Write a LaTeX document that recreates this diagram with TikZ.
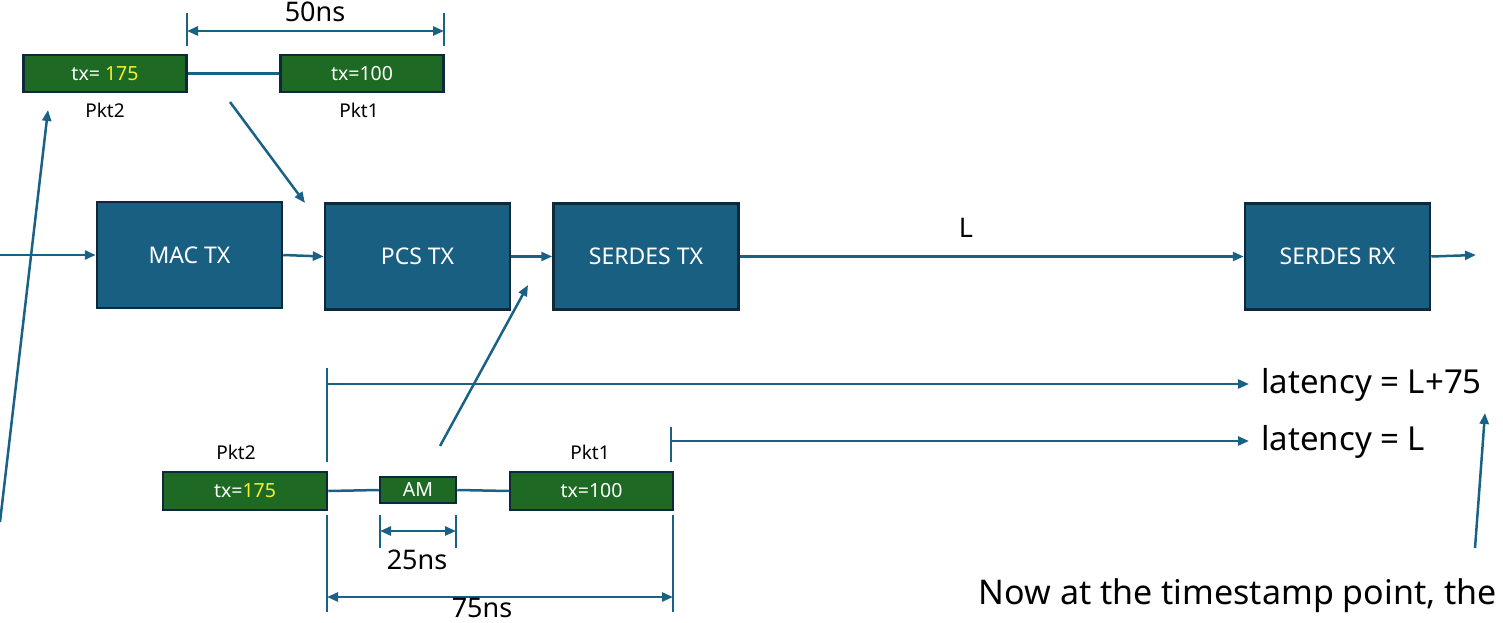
\documentclass[tikz,border=0pt]{standalone}
\usepackage{fontspec}
\setmainfont{Noto Sans}
\usetikzlibrary{arrows.meta}
\definecolor{boxblue}{RGB}{25,95,130}
\definecolor{boxedge}{RGB}{14,42,58}
\definecolor{pktgreen}{RGB}{30,106,36}
\definecolor{lnblue}{RGB}{26,98,133}
\definecolor{txyellow}{RGB}{245,240,40}
\tikzset{
  blk/.style={draw=boxedge, line width=2.5pt, fill=boxblue, text=white, inner sep=0pt,
    minimum width=185pt, minimum height=106pt, font=\fontsize{23}{27}\selectfont},
  pkt/.style={draw=boxedge, line width=2.5pt, fill=pktgreen, text=white, inner sep=0pt,
    minimum width=163pt, minimum height=37pt, font=\fontsize{19.5}{23}\selectfont},
  lbl/.style={font=\fontsize{19}{22}\selectfont, text=black, inner sep=0pt},
  dimlbl/.style={font=\fontsize{27}{32}\selectfont, text=black, inner sep=0pt},
  bigtxt/.style={font=\fontsize{33}{38}\selectfont, text=black, inner sep=0pt},
  ln/.style={draw=lnblue, line width=2.5pt},
  arr/.style={ln, -{Triangle[length=11pt,width=9pt]}},
  dim/.style={ln, {Triangle[length=11pt,width=9pt]}-{Triangle[length=11pt,width=9pt]}},
}
\begin{document}
\begin{tikzpicture}[x=1pt,y=-1pt]
\useasboundingbox (0,0) rectangle (1503,623);
% main blocks
\node[blk] (mac) at (189.5,255) {MAC TX};
\node[blk] (pcs) at (417.5,256.5) {PCS TX};
\node[blk] (stx) at (646,256.5) {SERDES TX};
\node[blk] (srx) at (1337.5,256.5) {SERDES RX};
\coordinate (in) at (0,255);
\coordinate (out) at (1476,255);
\draw[arr] (in) -- (mac.west);
\draw[arr] (mac.east) -- (pcs.west);
\draw[arr] (pcs.east) -- (stx.west);
\draw[arr] (stx.east) -- (srx.west);
\node[dimlbl] (L) at (966,228) {L};
\draw[arr] (srx.east) -- (out);
% top packets
\node[pkt] (tp2) at (105,73.5) {tx= \textcolor{txyellow}{175}};
\node[pkt] (tp1) at (362,73.5) {tx=100};
\draw[ln] (tp2.east) -- (tp1.west);
\node[lbl] (tp2l) at (105,110) {Pkt2};
\node[lbl] (tp1l) at (359,110) {Pkt1};
\coordinate (t50a) at (187,13); \coordinate (t50b) at (187,46);
\coordinate (t50c) at (444,13); \coordinate (t50d) at (444,46);
\draw[ln] (t50a) -- (t50b);
\draw[ln] (t50c) -- (t50d);
\coordinate (d50a) at (187,31); \coordinate (d50b) at (444,31);
\draw[dim] (d50a) -- (d50b);
\node[dimlbl] (n50) at (315,12) {50ns};
\coordinate (a1s) at (230,102); \coordinate (a1e) at (305,203);
\draw[arr] (a1s) -- (a1e);
\coordinate (a2s) at (0,522); \coordinate (a2e) at (48,110);
\draw[arr] (a2s) -- (a2e);
% bottom packets
\node[pkt, minimum width=164pt, minimum height=38pt] (bp2) at (245,491) {tx=\textcolor{txyellow}{175}};
\node[pkt, minimum width=76pt, minimum height=26pt] (am) at (418,490) {AM};
\node[pkt, minimum height=38pt] (bp1) at (591.5,491) {tx=100};
\draw[ln] (bp2.east) -- (am.west);
\draw[ln] (am.east) -- (bp1.west);
\node[lbl] (bp2l) at (236,452) {Pkt2};
\node[lbl] (bp1l) at (590,452) {Pkt1};
\coordinate (a3s) at (440,446); \coordinate (a3e) at (528,285);
\draw[arr] (a3s) -- (a3e);
% latency lines
\coordinate (lt1a) at (327,368); \coordinate (lt1b) at (327,462);
\draw[ln] (lt1a) -- (lt1b);
\coordinate (lh1) at (327,384);
\node[bigtxt, anchor=west] (lat1) at (1261,385) {latency = L+75};
\draw[arr] (lh1) -- (1249,384);
\coordinate (lt2a) at (671,427); \coordinate (lt2b) at (671,462);
\draw[ln] (lt2a) -- (lt2b);
\coordinate (lh2) at (671,441);
\node[bigtxt, anchor=west] (lat2) at (1261,442) {latency = L};
\draw[arr] (lh2) -- (1249,441);
% 25ns
\coordinate (t25a) at (380,515); \coordinate (t25b) at (380,548);
\coordinate (t25c) at (456,515); \coordinate (t25d) at (456,548);
\draw[ln] (t25a) -- (t25b);
\draw[ln] (t25c) -- (t25d);
\draw[dim] (380,531) -- (456,531);
\node[dimlbl] (n25) at (417,560) {25ns};
% 75ns
\coordinate (t75a) at (327,515); \coordinate (t75b) at (327,612);
\coordinate (t75c) at (673,515); \coordinate (t75d) at (673,612);
\draw[ln] (t75a) -- (t75b);
\draw[ln] (t75c) -- (t75d);
\draw[dim] (327,597) -- (673,597);
\node[dimlbl] (n75) at (482,608) {75ns};
% timestamp note
\node[bigtxt, font=\fontsize{34}{40}\selectfont, anchor=base east] (note) at (1497,604) {Now at the timestamp point, the};
\coordinate (a4s) at (1475,548);
\draw[arr] (a4s) -- (1485,413);
\end{tikzpicture}
\end{document}
